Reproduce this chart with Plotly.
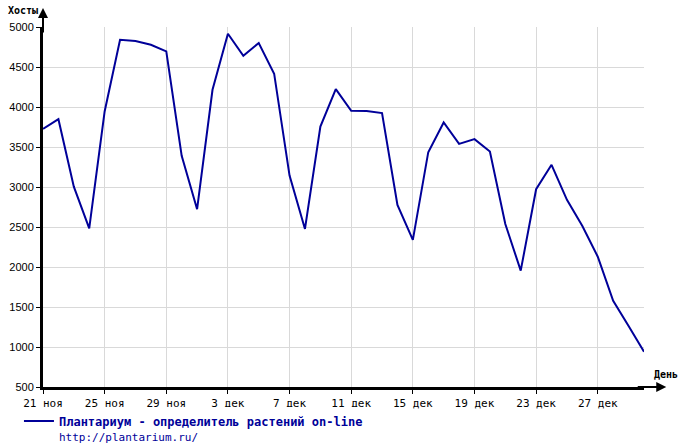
import pandas as pd
import plotly.graph_objects as go

days = pd.date_range("2009-11-21", "2009-12-30", freq="D")
hosts = [3727, 3848, 3005, 2484, 3944, 4841, 4825, 4778, 4695, 3390,
         2722, 4215, 4916, 4641, 4800, 4416, 3143, 2476, 3756, 4224,
         3952, 3950, 3924, 2776, 2340, 3435, 3806, 3539, 3598, 3443,
         2538, 1954, 2972, 3277, 2839, 2513, 2129, 1578, 1263, 940]

tick_dates = ["2009-11-21", "2009-11-25", "2009-11-29", "2009-12-03", "2009-12-07",
              "2009-12-11", "2009-12-15", "2009-12-19", "2009-12-23", "2009-12-27"]
tick_text = ["21 ноя", "25 ноя", "29 ноя", "3 дек", "7 дек",
             "11 дек", "15 дек", "19 дек", "23 дек", "27 дек"]
y_ticks = [500, 1000, 1500, 2000, 2500, 3000, 3500, 4000, 4500, 5000]

blue = "#000099"
mono = "DejaVu Sans Mono"

fig = go.Figure()
fig.add_trace(go.Scatter(
    x=days, y=hosts, mode="lines",
    line=dict(color=blue, width=2),
    name="<b>Плантариум - определитель растений on-line</b><br>"
         "<span style='font-size:11px'>http://plantarium.ru/</span>",
    showlegend=True,
))

fig.update_layout(
    width=682, height=445,
    margin=dict(l=43, r=38, t=27, b=58, autoexpand=False),
    plot_bgcolor="white", paper_bgcolor="white",
    font=dict(family=mono, size=11, color="black"),
    legend=dict(orientation="h", x=-0.04, xanchor="left", y=-0.055, yanchor="top",
                font=dict(family=mono, size=12, color=blue), valign="top"),
    xaxis=dict(range=[days[0], days[-1]], tickvals=tick_dates, ticktext=tick_text,
               showgrid=True, gridcolor="#d9d9d9", gridwidth=1,
               showline=True, linecolor="black", linewidth=3,
               ticks="outside", ticklen=4, tickcolor="black", automargin=False,
               tickfont=dict(family=mono, size=11)),
    yaxis=dict(range=[500, 5000], tickvals=y_ticks,
               showgrid=True, gridcolor="#d9d9d9", gridwidth=1,
               showline=True, linecolor="black", linewidth=3,
               ticks="outside", ticklen=4, tickcolor="black", zeroline=False,
               automargin=False, tickfont=dict(family="Liberation Sans", size=11)),
)

# axis arrows and axis titles
fig.add_annotation(x=0, y=1.053, xref="paper", yref="paper", ax=0, ay=26,
                   text="", showarrow=True, arrowhead=2, arrowwidth=2, arrowcolor="black")
fig.add_annotation(x=1.037, y=0, xref="paper", yref="paper", ax=-30, ay=0,
                   text="", showarrow=True, arrowhead=2, arrowwidth=2, arrowcolor="black")
fig.add_annotation(x=-0.005, y=1.045, xref="paper", yref="paper", xanchor="right", yanchor="middle",
                   text="<b>Хосты</b>", showarrow=False, font=dict(family=mono, size=10))
fig.add_annotation(x=1.036, y=0.015, xref="paper", yref="paper", xanchor="center", yanchor="bottom",
                   text="<b>День</b>", showarrow=False, font=dict(family=mono, size=10))

fig.write_html("out.html", config={"displayModeBar": False},
               post_script="document.body.style.margin='0';")
